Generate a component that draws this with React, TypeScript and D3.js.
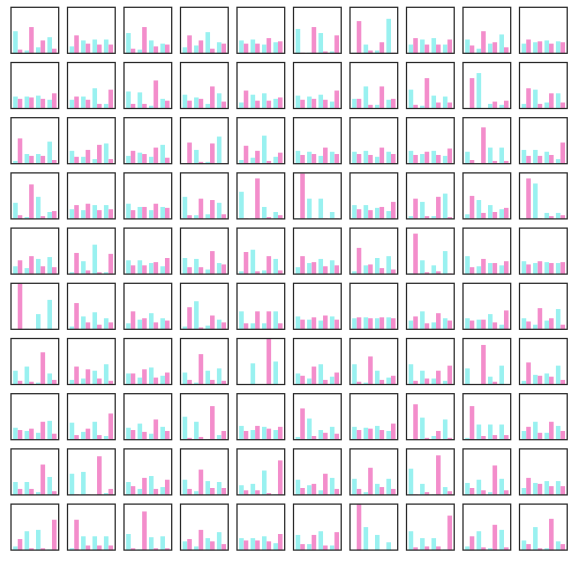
import React from "react";
import * as d3 from "d3";

// 10 x 10 small multiples, each with 4 categories and 2 series (shares, 0..1)
const categories = ["A", "B", "C", "D"];

// cyan series, one entry per panel, row by row
const cyanValues: number[][] = [
  // row 1
  [0.48, 0.06, 0.13, 0.35], [0.15, 0.28, 0.3, 0.3], [0.44, 0.08, 0.28, 0.21], [0.13, 0.17, 0.46, 0.24], [0.28, 0.3, 0.19, 0.24],
  [0.53, 0.01, 0.44, 0.04], [0.01, 0.19, 0.06, 0.75], [0.19, 0.3, 0.33, 0.19], [0.3, 0.1, 0.21, 0.41], [0.21, 0.24, 0.28, 0.26],
  // row 2
  [0.26, 0.26, 0.28, 0.19], [0.19, 0.26, 0.44, 0.1], [0.37, 0.35, 0.06, 0.21], [0.3, 0.24, 0.1, 0.33], [0.13, 0.3, 0.33, 0.21],
  [0.28, 0.26, 0.3, 0.15], [0.21, 0.48, 0.08, 0.19], [0.41, 0.06, 0.28, 0.26], [0.01, 0.77, 0.1, 0.08], [0.1, 0.41, 0.13, 0.33],
  // row 3
  [0.06, 0.21, 0.21, 0.48], [0.28, 0.15, 0.1, 0.44], [0.17, 0.24, 0.15, 0.41], [0.01, 0.3, 0.04, 0.59], [0.08, 0.13, 0.61, 0.15],
  [0.28, 0.26, 0.17, 0.26], [0.26, 0.28, 0.15, 0.26], [0.28, 0.21, 0.28, 0.17], [0.26, 0.01, 0.35, 0.35], [0.3, 0.3, 0.26, 0.1],
  // row 4
  [0.35, 0.04, 0.48, 0.15], [0.21, 0.19, 0.3, 0.3], [0.33, 0.26, 0.19, 0.26], [0.48, 0.08, 0.1, 0.35], [0.59, 0.01, 0.26, 0.15],
  [0.01, 0.44, 0.44, 0.15], [0.3, 0.3, 0.24, 0.17], [0.06, 0.37, 0.06, 0.55], [0.1, 0.41, 0.3, 0.21], [0.01, 0.77, 0.13, 0.13],
  // row 5
  [0.17, 0.13, 0.33, 0.37], [0.04, 0.28, 0.64, 0.04], [0.3, 0.3, 0.24, 0.17], [0.35, 0.33, 0.1, 0.24], [0.06, 0.53, 0.08, 0.33],
  [0.15, 0.24, 0.33, 0.3], [0.06, 0.19, 0.35, 0.39], [0.01, 0.3, 0.19, 0.5], [0.39, 0.17, 0.24, 0.19], [0.28, 0.24, 0.26, 0.24],
  // row 6
  [0, 0.01, 0.33, 0.64], [0.06, 0.28, 0.37, 0.24], [0.13, 0.21, 0.35, 0.24], [0.06, 0.61, 0.08, 0.21], [0.39, 0.13, 0.13, 0.39],
  [0.28, 0.21, 0.19, 0.28], [0.24, 0.26, 0.24, 0.26], [0.19, 0.39, 0.15, 0.24], [0.24, 0.21, 0.33, 0.1], [0.24, 0.1, 0.19, 0.44],
  // row 7
  [0.3, 0.39, 0.04, 0.24], [0.1, 0.13, 0.3, 0.44], [0.24, 0.15, 0.37, 0.19], [0.26, 0.04, 0.3, 0.35], [0.01, 0.46, 0, 0.5],
  [0.24, 0.13, 0.44, 0.17], [0.44, 0.04, 0.3, 0.15], [0.44, 0.3, 0.13, 0.08], [0.35, 0.01, 0.17, 0.41], [0.08, 0.21, 0.24, 0.41],
  // row 8
  [0.26, 0.19, 0.15, 0.41], [0.37, 0.17, 0.39, 0.08], [0.26, 0.35, 0.13, 0.28], [0.5, 0.39, 0.01, 0.1], [0.3, 0.21, 0.28, 0.21],
  [0.06, 0.46, 0.21, 0.28], [0.28, 0.26, 0.3, 0.19], [0.01, 0.48, 0.08, 0.44], [0.04, 0.33, 0.33, 0.33], [0.19, 0.39, 0.15, 0.3],
  // row 9
  [0.28, 0.28, 0.06, 0.39], [0.46, 0.5, 0, 0.04], [0.28, 0.13, 0.41, 0.17], [0.33, 0.08, 0.3, 0.28], [0.21, 0.24, 0.53, 0.01],
  [0.33, 0.21, 0.1, 0.37], [0.35, 0.06, 0.24, 0.35], [0.57, 0.24, 0.01, 0.17], [0.26, 0.33, 0.06, 0.35], [0.15, 0.26, 0.3, 0.3],
  // row 10
  [0.08, 0.41, 0.44, 0.01], [0.04, 0.3, 0.3, 0.3], [0.35, 0.01, 0.28, 0.3], [0.19, 0.08, 0.26, 0.39], [0.26, 0.26, 0.3, 0.15],
  [0.33, 0.13, 0.41, 0.1], [0, 0.5, 0.33, 0.17], [0.41, 0.26, 0.26, 0.01], [0.08, 0.41, 0.04, 0.44], [0.21, 0.5, 0.04, 0.19],
];

// pink series, same order
const pinkValues: number[][] = [
  // row 1
  [0.08, 0.57, 0.28, 0.1], [0.39, 0.21, 0.19, 0.19], [0.1, 0.57, 0.15, 0.19], [0.39, 0.28, 0.1, 0.21], [0.21, 0.21, 0.33, 0.26],
  [0.01, 0.57, 0.04, 0.39], [0.7, 0.06, 0.24, 0.01], [0.33, 0.19, 0.19, 0.3], [0.17, 0.48, 0.24, 0.13], [0.3, 0.26, 0.21, 0.24],
  // row 2
  [0.21, 0.24, 0.21, 0.33], [0.26, 0.19, 0.1, 0.41], [0.1, 0.1, 0.61, 0.17], [0.17, 0.21, 0.48, 0.15], [0.39, 0.17, 0.17, 0.24],
  [0.19, 0.21, 0.19, 0.39], [0.21, 0.08, 0.48, 0.21], [0.08, 0.66, 0.13, 0.13], [0.66, 0.01, 0.15, 0.17], [0.44, 0.1, 0.33, 0.13],
  // row 3
  [0.55, 0.17, 0.17, 0.08], [0.15, 0.3, 0.41, 0.1], [0.28, 0.21, 0.35, 0.13], [0.46, 0.04, 0.44, 0.01], [0.39, 0.28, 0.06, 0.24],
  [0.19, 0.21, 0.35, 0.21], [0.21, 0.19, 0.35, 0.21], [0.19, 0.26, 0.19, 0.33], [0.08, 0.79, 0.06, 0.06], [0.17, 0.17, 0.19, 0.46],
  // row 4
  [0.08, 0.75, 0.06, 0.17], [0.3, 0.33, 0.19, 0.21], [0.19, 0.26, 0.33, 0.24], [0.08, 0.44, 0.41, 0.1], [0.01, 0.88, 0.04, 0.08],
  [0.99, 0.01, 0.01, 0.01], [0.21, 0.19, 0.26, 0.37], [0.44, 0.06, 0.48, 0.04], [0.5, 0.13, 0.15, 0.24], [0.88, 0.01, 0.06, 0.08],
  // row 5
  [0.3, 0.39, 0.17, 0.15], [0.46, 0.08, 0.04, 0.44], [0.19, 0.19, 0.26, 0.35], [0.15, 0.15, 0.5, 0.21], [0.48, 0.06, 0.39, 0.08],
  [0.39, 0.26, 0.17, 0.19], [0.57, 0.21, 0.13, 0.1], [0.88, 0.04, 0.06, 0.01], [0.15, 0.33, 0.24, 0.28], [0.21, 0.28, 0.24, 0.26],
  // row 6
  [1.0, 0, 0, 0], [0.57, 0.15, 0.1, 0.15], [0.39, 0.24, 0.15, 0.19], [0.48, 0.04, 0.3, 0.15], [0.13, 0.39, 0.39, 0.13],
  [0.21, 0.26, 0.3, 0.21], [0.26, 0.24, 0.26, 0.24], [0.28, 0.13, 0.35, 0.19], [0.19, 0.21, 0.15, 0.41], [0.17, 0.46, 0.24, 0.1],
  // row 7
  [0.08, 0.06, 0.7, 0.1], [0.39, 0.33, 0.13, 0.08], [0.24, 0.33, 0.15, 0.26], [0.1, 0.66, 0.1, 0.08], [0, 0, 1.0, 0],
  [0.19, 0.39, 0.1, 0.26], [0.06, 0.61, 0.1, 0.19], [0.08, 0.13, 0.3, 0.41], [0.01, 0.86, 0.06, 0.01], [0.48, 0.19, 0.17, 0.1],
  // row 8
  [0.21, 0.24, 0.39, 0.13], [0.1, 0.24, 0.1, 0.57], [0.21, 0.17, 0.44, 0.19], [0.04, 0.06, 0.73, 0.19], [0.19, 0.3, 0.24, 0.28],
  [0.68, 0.08, 0.15, 0.13], [0.21, 0.24, 0.21, 0.35], [0.77, 0.04, 0.19, 0.04], [0.73, 0.08, 0.1, 0.1], [0.28, 0.15, 0.39, 0.19],
  // row 9
  [0.13, 0.13, 0.66, 0.08], [0.01, 0.01, 0.84, 0.13], [0.19, 0.37, 0.13, 0.33], [0.13, 0.55, 0.15, 0.15], [0.1, 0.1, 0.04, 0.75],
  [0.15, 0.24, 0.46, 0.13], [0.13, 0.59, 0.17, 0.13], [0.01, 0.06, 0.86, 0.08], [0.15, 0.1, 0.64, 0.1], [0.37, 0.24, 0.19, 0.19],
  // row 10
  [0.24, 0.04, 0.04, 0.66], [0.66, 0.1, 0.1, 0.1], [0.04, 0.84, 0.04, 0.04], [0.24, 0.44, 0.19, 0.13], [0.21, 0.21, 0.19, 0.35],
  [0.13, 0.33, 0.1, 0.39], [1.0, 0, 0, 0], [0.06, 0.08, 0.08, 0.75], [0.3, 0.06, 0.55, 0.06], [0.13, 0.04, 0.68, 0.13],
];

const width = 575;
const height = 561;
const nCols = 10;
const nRows = 10;

const CYAN = "#99F1F0";
const PINK = "#F38DCB";

const Panel: React.FC<{ cyan: number[]; pink: number[]; x0: number; y0: number; w: number; h: number }> = ({
  cyan,
  pink,
  x0,
  y0,
  w,
  h,
}) => {
  // same x range as matplotlib bars at 0..3 with width 0.8 and 5% margins
  const x = d3.scaleLinear().domain([-0.59, 3.59]).range([0, w]);
  const y = d3.scaleLinear().domain([0, 1]).range([h, 0]);
  const bw = x(0.4) - x(0);

  return (
    <g transform={`translate(${x0},${y0})`}>
      {categories.map((c, i) => (
        <g key={c}>
          <rect x={x(i - 0.4)} y={y(cyan[i])} width={bw} height={h - y(cyan[i])} fill={CYAN} />
          <rect x={x(i)} y={y(pink[i])} width={bw} height={h - y(pink[i])} fill={PINK} />
        </g>
      ))}
      <rect x={0} y={0} width={w} height={h} fill="none" stroke="#262626" strokeWidth={1.25} />
    </g>
  );
};

export default function App() {
  const left = 11;
  const top = 7.3;
  const cellW = 47.7;
  const cellH = 46;
  const pitchX = 56.5;
  const pitchY = 55.2;

  const panels = d3.range(nRows * nCols);

  return (
    <svg
      width={width}
      height={height}
      style={{ position: "absolute", left: 0, top: 0, background: "#fff" }}
    >
      <rect width={width} height={height} fill="#fff" />
      {panels.map((k) => {
        const r = Math.floor(k / nCols);
        const c = k % nCols;
        return (
          <Panel
            key={k}
            cyan={cyanValues[k]}
            pink={pinkValues[k]}
            x0={left + c * pitchX}
            y0={top + r * pitchY}
            w={cellW}
            h={cellH}
          />
        );
      })}
    </svg>
  );
}
